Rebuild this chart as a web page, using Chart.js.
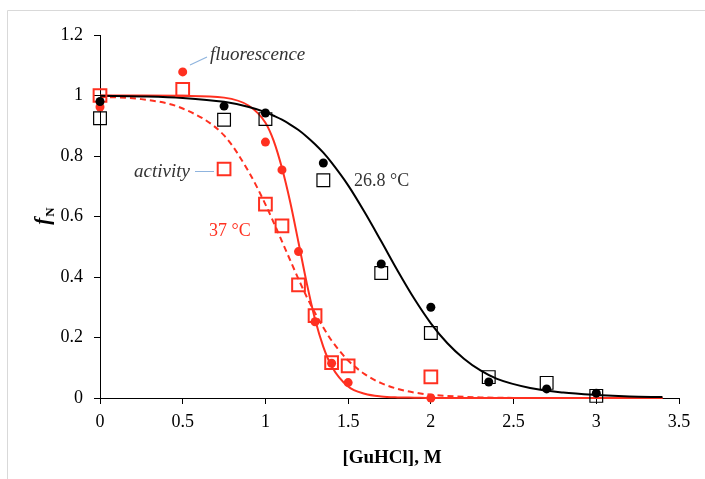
<!DOCTYPE html>
<html>
<head>
<meta charset="utf-8">
<script src="https://cdn.jsdelivr.net/npm/chart.js@4.4.1/dist/chart.umd.min.js"></script>
<style>
  body { margin: 0; background: #fff; }
  #wrap { position: relative; width: 705px; height: 479px; }
</style>
</head>
<body>
<div id="wrap"><canvas id="chart"></canvas></div>
<script>
// measured points, [GuHCl] (M) vs fN
var x268 = [0, 0.75, 1, 1.35, 1.7, 2, 2.35, 2.7, 3];
var fluor268 = [0.98, 0.965, 0.942, 0.777, 0.443, 0.30, 0.053, 0.03, 0.016];
var act268 = [0.925, 0.92, 0.922, 0.72, 0.413, 0.215, 0.069, 0.05, 0.007];

var xFluor37 = [0, 0.5, 1, 1.1, 1.2, 1.3, 1.4, 1.5, 2];
var fluor37 = [0.962, 1.078, 0.846, 0.754, 0.484, 0.252, 0.115, 0.051, 0.0];
var xAct37 = [0, 0.5, 0.75, 1, 1.1, 1.2, 1.3, 1.4, 1.5, 2];
var act37 = [1.0, 1.02, 0.757, 0.641, 0.569, 0.374, 0.272, 0.117, 0.106, 0.07];

// fitted curves
var curveX = [0, 0.25, 0.5, 0.75, 0.9, 1, 1.05, 1.1, 1.15, 1.2, 1.25, 1.3, 1.35, 1.4, 1.5, 1.6, 1.7, 1.8, 1.9, 2, 2.1, 2.2, 2.3, 2.4, 2.6, 2.8, 3, 3.2, 3.4];
var fit268 = [0.999, 0.997, 0.992, 0.979, 0.962, 0.945, 0.933, 0.920, 0.904, 0.886, 0.864, 0.839, 0.811, 0.778, 0.703, 0.614, 0.518, 0.420, 0.328, 0.247, 0.181, 0.130, 0.091, 0.063, 0.033, 0.018, 0.010, 0.005, 0.003];
var fitFluor37 = [1.0, 1.0, 0.999, 0.993, 0.966, 0.91, 0.85, 0.76, 0.647, 0.514, 0.379, 0.26, 0.169, 0.105, 0.038, 0.014, 0.005, 0.002, 0.001, 0, 0, 0, 0, 0, 0, 0, 0, 0, 0];
var fitAct37 = [0.996, 0.988, 0.957, 0.868, 0.747, 0.640, 0.580, 0.518, 0.455, 0.393, 0.334, 0.281, 0.233, 0.190, 0.124, 0.079, 0.049, 0.030, 0.018, 0.011, 0.007, 0.004, 0.002, 0.001, 0, 0, 0, 0, 0];

var xTickLabels = ["0", "0.5", "1", "1.5", "2", "2.5", "3", "3.5"];
var yTickLabels = ["0", "0.2", "0.4", "0.6", "0.8", "1", "1.2"];

var RED = "#ff3020";
var SERIF = "'Liberation Serif', 'DejaVu Serif', serif";

function pts(xs, ys) {
    return xs.map(function (x, i) { return { x: x, y: ys[i] }; });
}

// border, axis titles and text labels
var decorations = {
    id: "decorations",
    beforeDraw: function (chart) {
        var ctx = chart.ctx;
        ctx.save();
        ctx.strokeStyle = "#d9d9d9";
        ctx.lineWidth = 1;
        ctx.beginPath();
        ctx.moveTo(7.5, 479);
        ctx.lineTo(7.5, 10.5);
        ctx.lineTo(705, 10.5);
        ctx.stroke();
        ctx.restore();
    },
    afterDraw: function (chart) {
        var ctx = chart.ctx;
        ctx.save();
        // x title
        ctx.fillStyle = "#000";
        ctx.font = "bold 19px " + SERIF;
        ctx.textAlign = "center";
        ctx.textBaseline = "middle";
        ctx.fillText("[GuHCl], M", 392, 458);

        // y title f_N, rotated
        ctx.translate(46, 216);
        ctx.rotate(-Math.PI / 2);
        ctx.textAlign = "left";
        ctx.font = "bold italic 21px " + SERIF;
        var fw = ctx.measureText("f").width;
        ctx.font = "bold 13px " + SERIF;
        var nw = ctx.measureText("N").width;
        var start = -(fw + nw + 1) / 2;
        ctx.font = "bold italic 21px " + SERIF;
        ctx.fillText("f", start, -2);
        ctx.font = "bold 13px " + SERIF;
        ctx.fillText("N", start + fw + 1, 5);
        ctx.setTransform(1, 0, 0, 1, 0, 0);

        // leader lines
        ctx.strokeStyle = "#8fb4de";
        ctx.lineWidth = 1.2;
        ctx.beginPath();
        ctx.moveTo(190, 65);
        ctx.lineTo(207, 57);
        ctx.moveTo(195, 171.5);
        ctx.lineTo(214, 171.5);
        ctx.stroke();

        ctx.textBaseline = "middle";
        ctx.fillStyle = "#333";
        ctx.font = "italic 19px " + SERIF;
        ctx.textAlign = "left";
        ctx.fillText("fluorescence", 210, 55);
        ctx.textAlign = "right";
        ctx.fillText("activity", 190, 172);

        ctx.textAlign = "left";
        ctx.font = "18px " + SERIF;
        ctx.fillText("26.8 \u00B0C", 354, 181);
        ctx.fillStyle = RED;
        ctx.fillText("37 \u00B0C", 209, 231);
        ctx.restore();
    }
};

var ctx = document.getElementById("chart");
var chart = new Chart(ctx, {
    type: "scatter",
    data: {
        datasets: [
            {
                data: pts(x268, fluor268), showLine: false, order: 0, clip: false,
                pointStyle: "circle", pointRadius: 4.5,
                backgroundColor: "#000", borderColor: "#000", borderWidth: 0
            },
            {
                data: pts(x268, act268), showLine: false, order: 0, clip: false,
                pointStyle: "rect", pointRadius: 9,
                backgroundColor: "rgba(0,0,0,0)", borderColor: "#000", borderWidth: 1.2
            },
            {
                data: pts(xFluor37, fluor37), showLine: false, order: 0, clip: false,
                pointStyle: "circle", pointRadius: 4.5,
                backgroundColor: RED, borderColor: RED, borderWidth: 0
            },
            {
                data: pts(xAct37, act37), showLine: false, order: 0, clip: false,
                pointStyle: "rect", pointRadius: 9,
                backgroundColor: "rgba(0,0,0,0)", borderColor: RED, borderWidth: 2
            },
            {
                data: pts(curveX, fit268), showLine: true, order: 1, clip: false,
                pointRadius: 0, borderColor: "#000", borderWidth: 2,
                cubicInterpolationMode: "monotone"
            },
            {
                data: pts(curveX, fitFluor37), showLine: true, order: 1, clip: false,
                pointRadius: 0, borderColor: RED, borderWidth: 2,
                cubicInterpolationMode: "monotone"
            },
            {
                data: pts(curveX, fitAct37), showLine: true, order: 1, clip: false,
                pointRadius: 0, borderColor: RED, borderWidth: 2, borderDash: [6, 4],
                cubicInterpolationMode: "monotone"
            }
        ]
    },
    options: {
        responsive: true,
        maintainAspectRatio: false,
        animation: false,
        layout: { padding: { left: 0, top: 35, right: 26, bottom: 0 } },
        plugins: {
            legend: { display: false },
            tooltip: { enabled: false }
        },
        scales: {
            x: {
                type: "linear", min: 0, max: 3.5,
                afterFit: function (scale) { scale.height = 81; },
                ticks: {
                    stepSize: 0.5, padding: 7, color: "#000",
                    font: { family: SERIF, size: 18 },
                    callback: function (v, i) { return xTickLabels[i]; }
                },
                grid: { display: true, drawOnChartArea: false, drawTicks: true, tickLength: 6, color: "#000" },
                border: { display: true, color: "#000", width: 1 }
            },
            y: {
                type: "linear", min: 0, max: 1.2,
                afterFit: function (scale) { scale.width = 100; },
                ticks: {
                    stepSize: 0.2, padding: 11, color: "#000",
                    font: { family: SERIF, size: 18 },
                    callback: function (v, i) { return yTickLabels[i]; }
                },
                grid: { display: true, drawOnChartArea: false, drawTicks: true, tickLength: 6, color: "#000" },
                border: { display: true, color: "#000", width: 1 }
            }
        }
    },
    plugins: [decorations]
});
</script>
</body>
</html>
